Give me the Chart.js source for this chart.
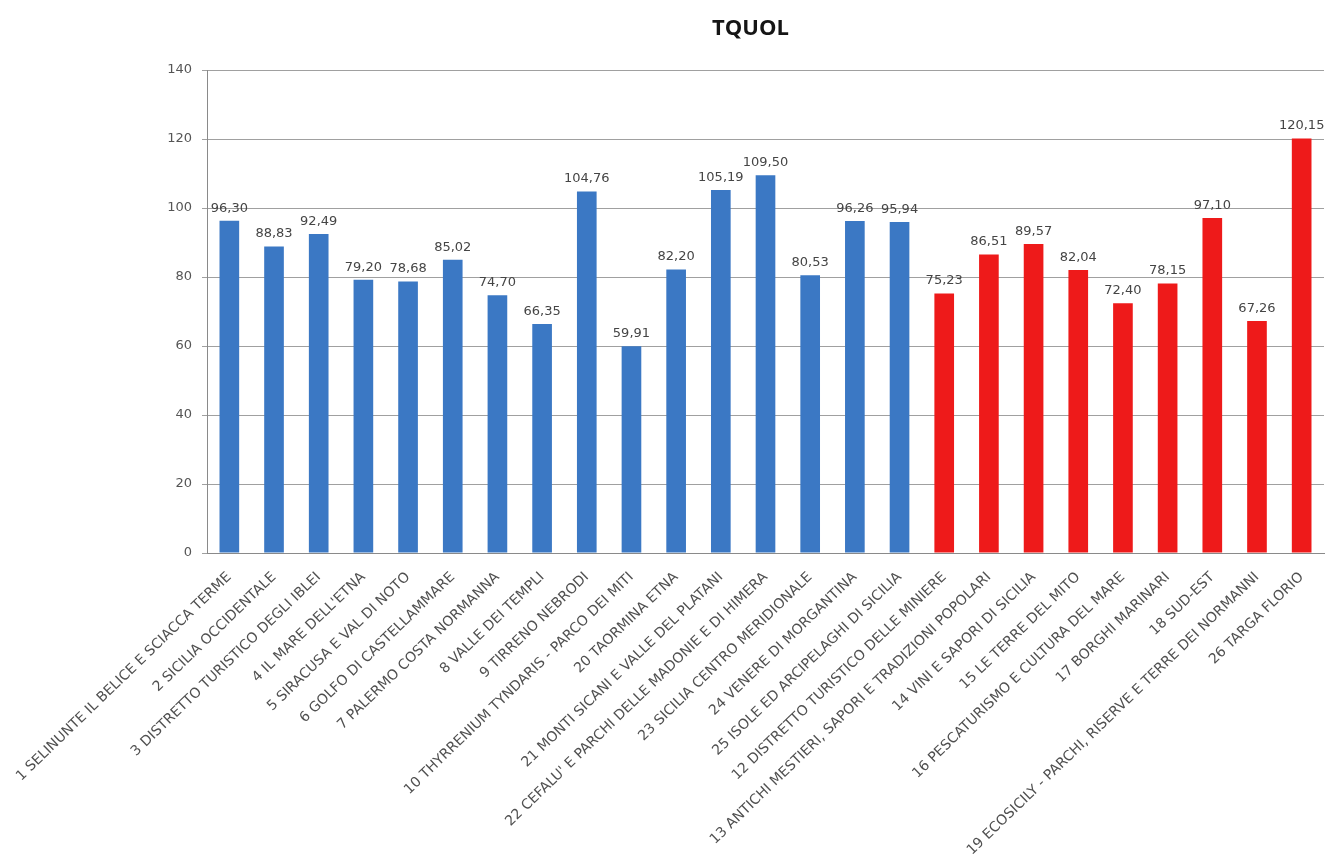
<!DOCTYPE html>
<html>
<head>
<meta charset="utf-8">
<title>TQUOL</title>
<script src="https://cdn.jsdelivr.net/npm/chart.js@4/dist/chart.umd.min.js"></script>
<style>
  html, body { margin: 0; padding: 0; background: #fff; }
  #wrap { width: 1330px; height: 861px; }
</style>
</head>
<body>
<div id="wrap"><canvas id="chart" width="1330" height="861"></canvas></div>
<script>
const TITLE = 'TQUOL';

const labels = [
  '1 SELINUNTE IL BELICE E SCIACCA TERME',
  '2 SICILIA OCCIDENTALE',
  '3 DISTRETTO TURISTICO DEGLI IBLEI',
  '4 IL MARE DELL\'ETNA',
  '5 SIRACUSA E VAL DI NOTO',
  '6 GOLFO DI CASTELLAMMARE',
  '7 PALERMO COSTA NORMANNA',
  '8 VALLE DEI TEMPLI',
  '9 TIRRENO NEBRODI',
  '10 THYRRENIUM TYNDARIS - PARCO DEI MITI',
  '20 TAORMINA ETNA',
  '21 MONTI SICANI E VALLE DEL PLATANI',
  '22 CEFALU\' E PARCHI DELLE MADONIE E DI HIMERA',
  '23 SICILIA CENTRO MERIDIONALE',
  '24 VENERE DI MORGANTINA',
  '25 ISOLE ED ARCIPELAGHI DI SICILIA',
  '12 DISTRETTO TURISTICO DELLE MINIERE',
  '13 ANTICHI MESTIERI, SAPORI E TRADIZIONI POPOLARI',
  '14 VINI E SAPORI DI SICILIA',
  '15 LE TERRE DEL MITO',
  '16 PESCATURISMO E CULTURA DEL MARE',
  '17 BORGHI MARINARI',
  '18 SUD-EST',
  '19 ECOSICILY - PARCHI, RISERVE E TERRE DEI NORMANNI',
  '26 TARGA FLORIO'
];
const values = [
  96.30, 88.83, 92.49, 79.20, 78.68, 85.02, 74.70, 66.35, 104.76, 59.91,
  82.20, 105.19, 109.50, 80.53, 96.26, 95.94,
  75.23, 86.51, 89.57, 82.04, 72.40, 78.15, 97.10, 67.26, 120.15
];
// territorial districts (blue) vs thematic districts (red)
const groups = [
  'T','T','T','T','T','T','T','T','T','T',
  'T','T','T','T','T','T',
  'M','M','M','M','M','M','M','M','M'
];
const yTicks = [0, 20, 40, 60, 80, 100, 120, 140];

const BLUE = '#3b78c4';
const RED = '#ee1a1a';

const fmt = v => v.toFixed(2).replace('.', ',');

// value labels above bars
const valueLabels = {
  id: 'valueLabels',
  afterDatasetsDraw(chart) {
    const ctx = chart.ctx;
    const meta = chart.getDatasetMeta(0);
    ctx.save();
    ctx.font = '13px "DejaVu Sans"';
    ctx.fillStyle = '#454545';
    ctx.textAlign = 'center';
    ctx.textBaseline = 'bottom';
    meta.data.forEach((bar, i) => {
      ctx.fillText(fmt(values[i]), bar.x, bar.y - 6);
    });
    ctx.restore();
  }
};

// title a little left of the plot centre, as in the original
const plotTitle = {
  id: 'plotTitle',
  afterDraw(chart) {
    const ctx = chart.ctx;
    const a = chart.chartArea;
    ctx.save();
    ctx.font = 'bold 22px "Open Sans"';
    ctx.fillStyle = '#151515';
    ctx.textAlign = 'center';
    ctx.textBaseline = 'middle';
    ctx.fillText(TITLE, (a.left + a.right) / 2 - 15, 29);
    ctx.restore();
  }
};

new Chart(document.getElementById('chart').getContext('2d'), {
  type: 'bar',
  data: {
    labels: labels,
    datasets: [{
      data: values,
      backgroundColor: groups.map(g => g === 'T' ? BLUE : RED),
      barPercentage: 0.88,
      categoryPercentage: 0.5
    }]
  },
  options: {
    responsive: false,
    animation: false,
    layout: { padding: { top: 70, right: 6, left: 0, bottom: 0 } },
    plugins: {
      legend: { display: false },
      tooltip: { enabled: false }
    },
    scales: {
      x: {
        grid: { display: false },
        border: { color: '#8a8a8a', width: 1 },
        ticks: {
          autoSkip: false,
          maxRotation: 44,
          minRotation: 44,
          color: '#505050',
          font: { family: '"DejaVu Sans"', size: 14 },
          padding: 8
        },
        afterFit(scale) { scale.height = 308; }
      },
      y: {
        min: 0,
        max: 140,
        afterBuildTicks(scale) { scale.ticks = yTicks.map(v => ({ value: v })); },
        grid: { color: '#a0a0a0', lineWidth: 1, tickLength: 5 },
        border: { color: '#8a8a8a', width: 1 },
        ticks: {
          color: '#555555',
          font: { family: '"DejaVu Sans"', size: 13 },
          padding: 10
        },
        afterFit(scale) { scale.width = 207; }
      }
    }
  },
  plugins: [valueLabels, plotTitle]
});
</script>
</body>
</html>
